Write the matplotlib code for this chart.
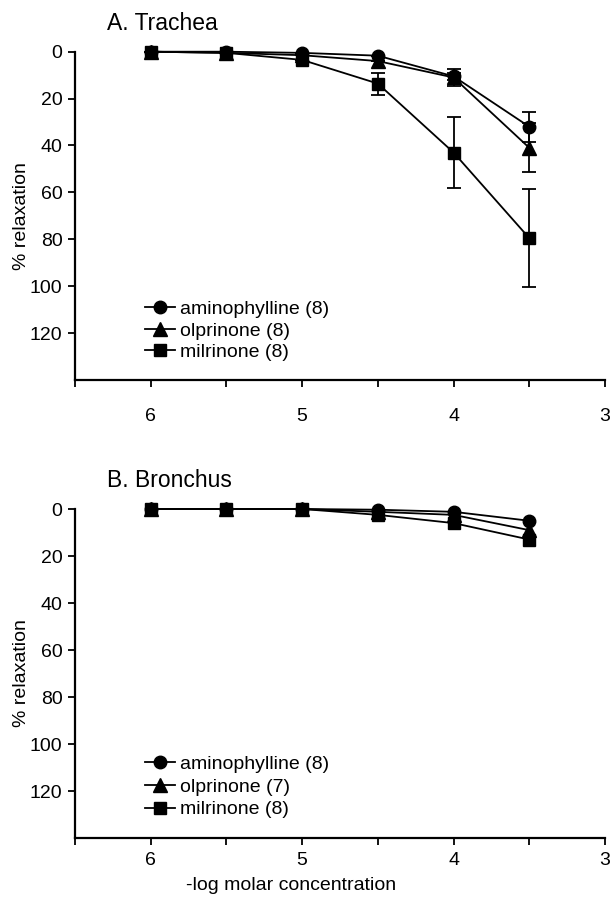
"""
Concentration-response curves, trachea and bronchus.
"""

import numpy as np
import matplotlib
matplotlib.use('Agg')
import matplotlib.pyplot as plt

plt.rcParams['font.family'] = ['Liberation Sans', 'DejaVu Sans']

#
#  Data: -log molar concentration and % relaxation (mean, SE)
#

conc = [6.0, 5.5, 5.0, 4.5, 4.0, 3.5]

trachea_amino = [0, 0, 0.5, 1.7, 10.5, 32]
trachea_amino_se = [0, 0, 0, 0, 1.5, 6.3]
trachea_olp = [0, 0.5, 1.5, 4, 11, 41]
trachea_olp_se = [0, 0, 0, 0, 3.5, 10.5]
trachea_mil = [0, 0.5, 3.5, 13.6, 43, 79.5]
trachea_mil_se = [0, 0, 0, 4.7, 15, 21]

bronchus_amino = [0, 0, 0, 0.3, 1.2, 5]
bronchus_olp = [0, 0, 0, 1.2, 2.5, 9]
bronchus_mil = [0, 0, 0, 2.5, 6, 13]

trachea_labels = ['aminophylline (8)', 'olprinone (8)', 'milrinone (8)']
bronchus_labels = ['aminophylline (8)', 'olprinone (7)', 'milrinone (8)']

markers = ['o', '^', 's']
msizes = [9, 9.5, 9]

fig = plt.figure(figsize=(6.16, 9.05), dpi=100)
ax1 = fig.add_axes([75/616, 1-380/905, 530/616, 328.3/905])
ax2 = fig.add_axes([75/616, 1-838/905, 530/616, 329/905])


def draw_panel(ax, series, errs, labels, title, leg_y, leg_space, xpad):
    for vals, err, mk, ms, lab in zip(series, errs, markers, msizes, labels):
        if err is not None:
            ax.errorbar(conc, vals, yerr=err, fmt='none', ecolor='black',
                        elinewidth=1.3, capsize=5, capthick=1.3,
                        clip_on=False, zorder=2)
        ax.plot(conc, vals, color='black', marker=mk, markersize=ms,
                linewidth=1.3, label=lab, clip_on=False, zorder=3)

    ax.set_xlim(6.5, 3.0)
    ax.set_ylim(140, 0)
    ax.set_xticks(np.arange(6.5, 2.99, -0.5))
    ax.set_xticklabels(['', '6', '', '5', '', '4', '', '3'])
    ax.set_yticks(np.arange(0, 121, 20))
    ax.tick_params(direction='out', length=5, width=1.3, labelsize=14,
                   color='black', pad=4)
    ax.tick_params(axis='x', pad=xpad)
    for side in ['top', 'right']:
        ax.spines[side].set_visible(False)
    for side in ['left', 'bottom']:
        ax.spines[side].set_linewidth(1.6)
    ax.set_ylabel('% relaxation', fontsize=14)
    ax.yaxis.set_label_coords(-0.085, 0.5)
    ax.text(32/530, 1.0 + 28/328, title, transform=ax.transAxes,
            fontsize=16.5, ha='left', va='center')
    ax.legend(loc='center left', bbox_to_anchor=(0.132, leg_y),
              frameon=False, fontsize=14, handlelength=1.55,
              handletextpad=0.26, labelspacing=leg_space, borderpad=0,
              borderaxespad=0)


draw_panel(ax1, [trachea_amino, trachea_olp, trachea_mil],
           [trachea_amino_se, trachea_olp_se, trachea_mil_se],
           trachea_labels, 'A. Trachea', 0.15, 0.2, 15)
draw_panel(ax2, [bronchus_amino, bronchus_olp, bronchus_mil],
           [None, None, None], bronchus_labels, 'B. Bronchus', 0.155, 0.26, 5)

ax2.set_xlabel('-log molar concentration', fontsize=14)
ax2.xaxis.set_label_coords(0.408, -0.12)

fig.savefig('out.png', dpi=100)
